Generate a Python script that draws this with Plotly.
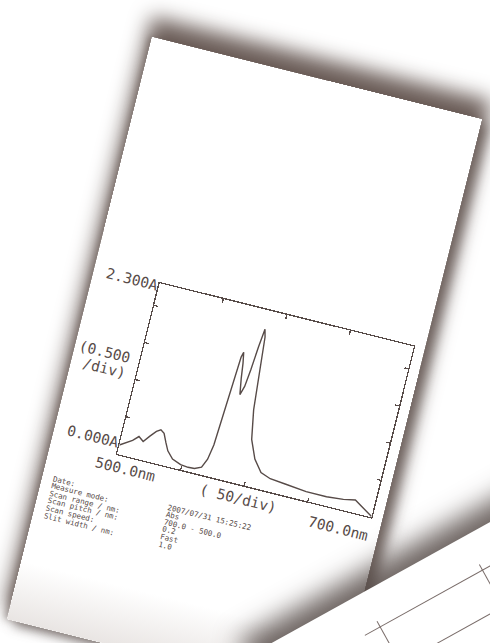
import plotly.graph_objects as go

# ---- data ----
wavelength = [500, 505, 509, 513, 517, 521, 525, 528, 531, 534, 537, 542, 549, 555, 560,
              565, 568, 570, 571, 572, 573, 574, 575, 576.5, 578, 580, 582, 583.5, 585,
              586.5, 588, 590, 593, 597, 603, 610, 618, 630, 647, 663, 676, 685, 692, 700]
absorbance = [0.12, 0.17, 0.22, 0.29, 0.24, 0.33, 0.41, 0.445, 0.41, 0.30, 0.20, 0.11, 0.065, 0.055, 0.06,
              0.10, 0.22, 0.42, 0.76, 1.08, 1.40, 1.62, 1.69, 1.55, 1.35, 1.14, 1.26, 1.49, 1.81,
              2.05, 1.95, 1.52, 0.99, 0.61, 0.37, 0.22, 0.17, 0.15, 0.12, 0.12, 0.14, 0.17, 0.10, 0.01]

x_range = [500, 700]
y_range = [0, 2.3]
x_ticks = [550, 600, 650]
y_ticks = [0.5, 1.0, 1.5, 2.0]

y_top_label = "2.300A"
y_bottom_label = "0.000A"
y_div_label = ["(0.500", "/div)"]
x_left_label = "500.0nm"
x_right_label = "700.0nm"
x_div_label = "( 50/div)"

info_labels = ["Date:", "Measure mode:", "Scan range / nm:", "Scan pitch / nm:", "Scan speed:", "Slit width / nm:"]
info_values = ["2007/07/31 15:25:22", "Abs", "700.0 - 500.0", "0.2", "Fast", "1.0"]

INK = "#574b48"
MONO = "DejaVu Sans Mono"

fig = go.Figure(go.Scatter(x=wavelength, y=absorbance, mode="lines",
                           line=dict(color=INK, width=1.4), hoverinfo="skip"))

axis_common = dict(showgrid=False, zeroline=False, showline=True, linecolor=INK, linewidth=1.3,
                   mirror="ticks", ticks="inside", ticklen=4, tickwidth=1.3, tickcolor=INK,
                   showticklabels=False, fixedrange=True)
fig.update_xaxes(range=x_range, tickvals=x_ticks, **axis_common)
fig.update_yaxes(range=y_range, tickvals=y_ticks, **axis_common)

BIG = 14.5
SMALL = 7.5
big = dict(family=MONO, size=BIG, color=INK)
small = dict(family=MONO, size=SMALL, color=INK)

PW, PH = 262.0, 176.0  # plot area in px


def cx_left(left_px, text, size):
    # centre (paper units) of a left-aligned mono text starting left_px from plot left
    return (left_px + len(text) * 0.602 * size / 2) / PW


def cx_right(right_px, text, size):
    return (right_px - len(text) * 0.602 * size / 2) / PW


ann = []
ann.append(dict(text=y_top_label, x=cx_right(-1, y_top_label, BIG), y=0.985, font=big))
ann.append(dict(text=y_bottom_label, x=cx_right(-1, y_bottom_label, BIG), y=0.062, font=big))
ann.append(dict(text=y_div_label[0], x=cx_right(-11, y_div_label[0], BIG), y=0.545, font=big))
ann.append(dict(text=y_div_label[1], x=cx_right(-11, y_div_label[1], BIG), y=0.455, font=big))
ann.append(dict(text=x_left_label, x=0.042, y=-0.074, font=big))
ann.append(dict(text=x_div_label, x=0.489, y=-0.080, font=big))
ann.append(dict(text=x_right_label, x=0.889, y=-0.108, font=big))
for i, (lab, val) in enumerate(zip(info_labels, info_values)):
    yy = -0.2216 - 0.0432 * i
    ann.append(dict(text=lab, x=cx_left(-56, lab, SMALL), y=yy, font=small))
    ann.append(dict(text=val, x=cx_left(62, val, SMALL), y=yy, font=small))
for a in ann:
    a.update(xref="paper", yref="paper", showarrow=False, xanchor="center", yanchor="middle")

fig.update_layout(width=340, height=600, margin=dict(l=67, r=11, t=237, b=187),
                  paper_bgcolor="rgba(0,0,0,0)", plot_bgcolor="rgba(0,0,0,0)",
                  showlegend=False, annotations=ann)

js = """
var gd = document.getElementById('{plot_id}');
document.documentElement.style.overflow = 'hidden';
document.body.style.margin = '0';
document.body.style.overflow = 'hidden';
document.body.style.background = '#ffffff';
gd.style.position = 'absolute';
gd.style.left = '152px';
gd.style.top = '37px';
gd.style.transformOrigin = '0 0';
gd.style.transform = 'rotate(14deg)';
gd.style.zIndex = '1';
gd.style.background = 'linear-gradient(180deg, #ffffff 0%, #ffffff 90%, #e9e5e3 100%)';
gd.style.boxShadow = '0 -15px 20px 5px rgba(100,85,80,0.95), -3px 0 6px rgba(120,110,105,0.5), 8px 4px 12px rgba(95,85,82,0.7)';
var s = document.createElement('div');
s.style.position = 'absolute';
s.style.left = '250px';
s.style.top = '655px';
s.style.width = '420px';
s.style.height = '260px';
s.style.background = '#ffffff';
s.style.transformOrigin = '0 0';
s.style.transform = 'rotate(-29deg)';
s.style.zIndex = '2';
s.style.boxShadow = '0 -14px 26px 4px rgba(85,74,70,0.85)';
function ln(l, t, w, h, side) {
  var d = document.createElement('div');
  d.style.position = 'absolute'; d.style.left = l + 'px'; d.style.top = t + 'px';
  d.style.width = w + 'px'; d.style.height = h + 'px';
  d.style[side] = '1px solid #7a6d6a';
  s.appendChild(d);
}
ln(110, 38, 320, 0, 'borderTop');
ln(110, 80, 320, 0, 'borderTop');
ln(127, 32, 0, 100, 'borderLeft');
ln(244, 32, 0, 100, 'borderLeft');
document.body.appendChild(s);
"""

fig.write_html("out.html", config={"displayModeBar": False, "staticPlot": True}, post_script=js)
